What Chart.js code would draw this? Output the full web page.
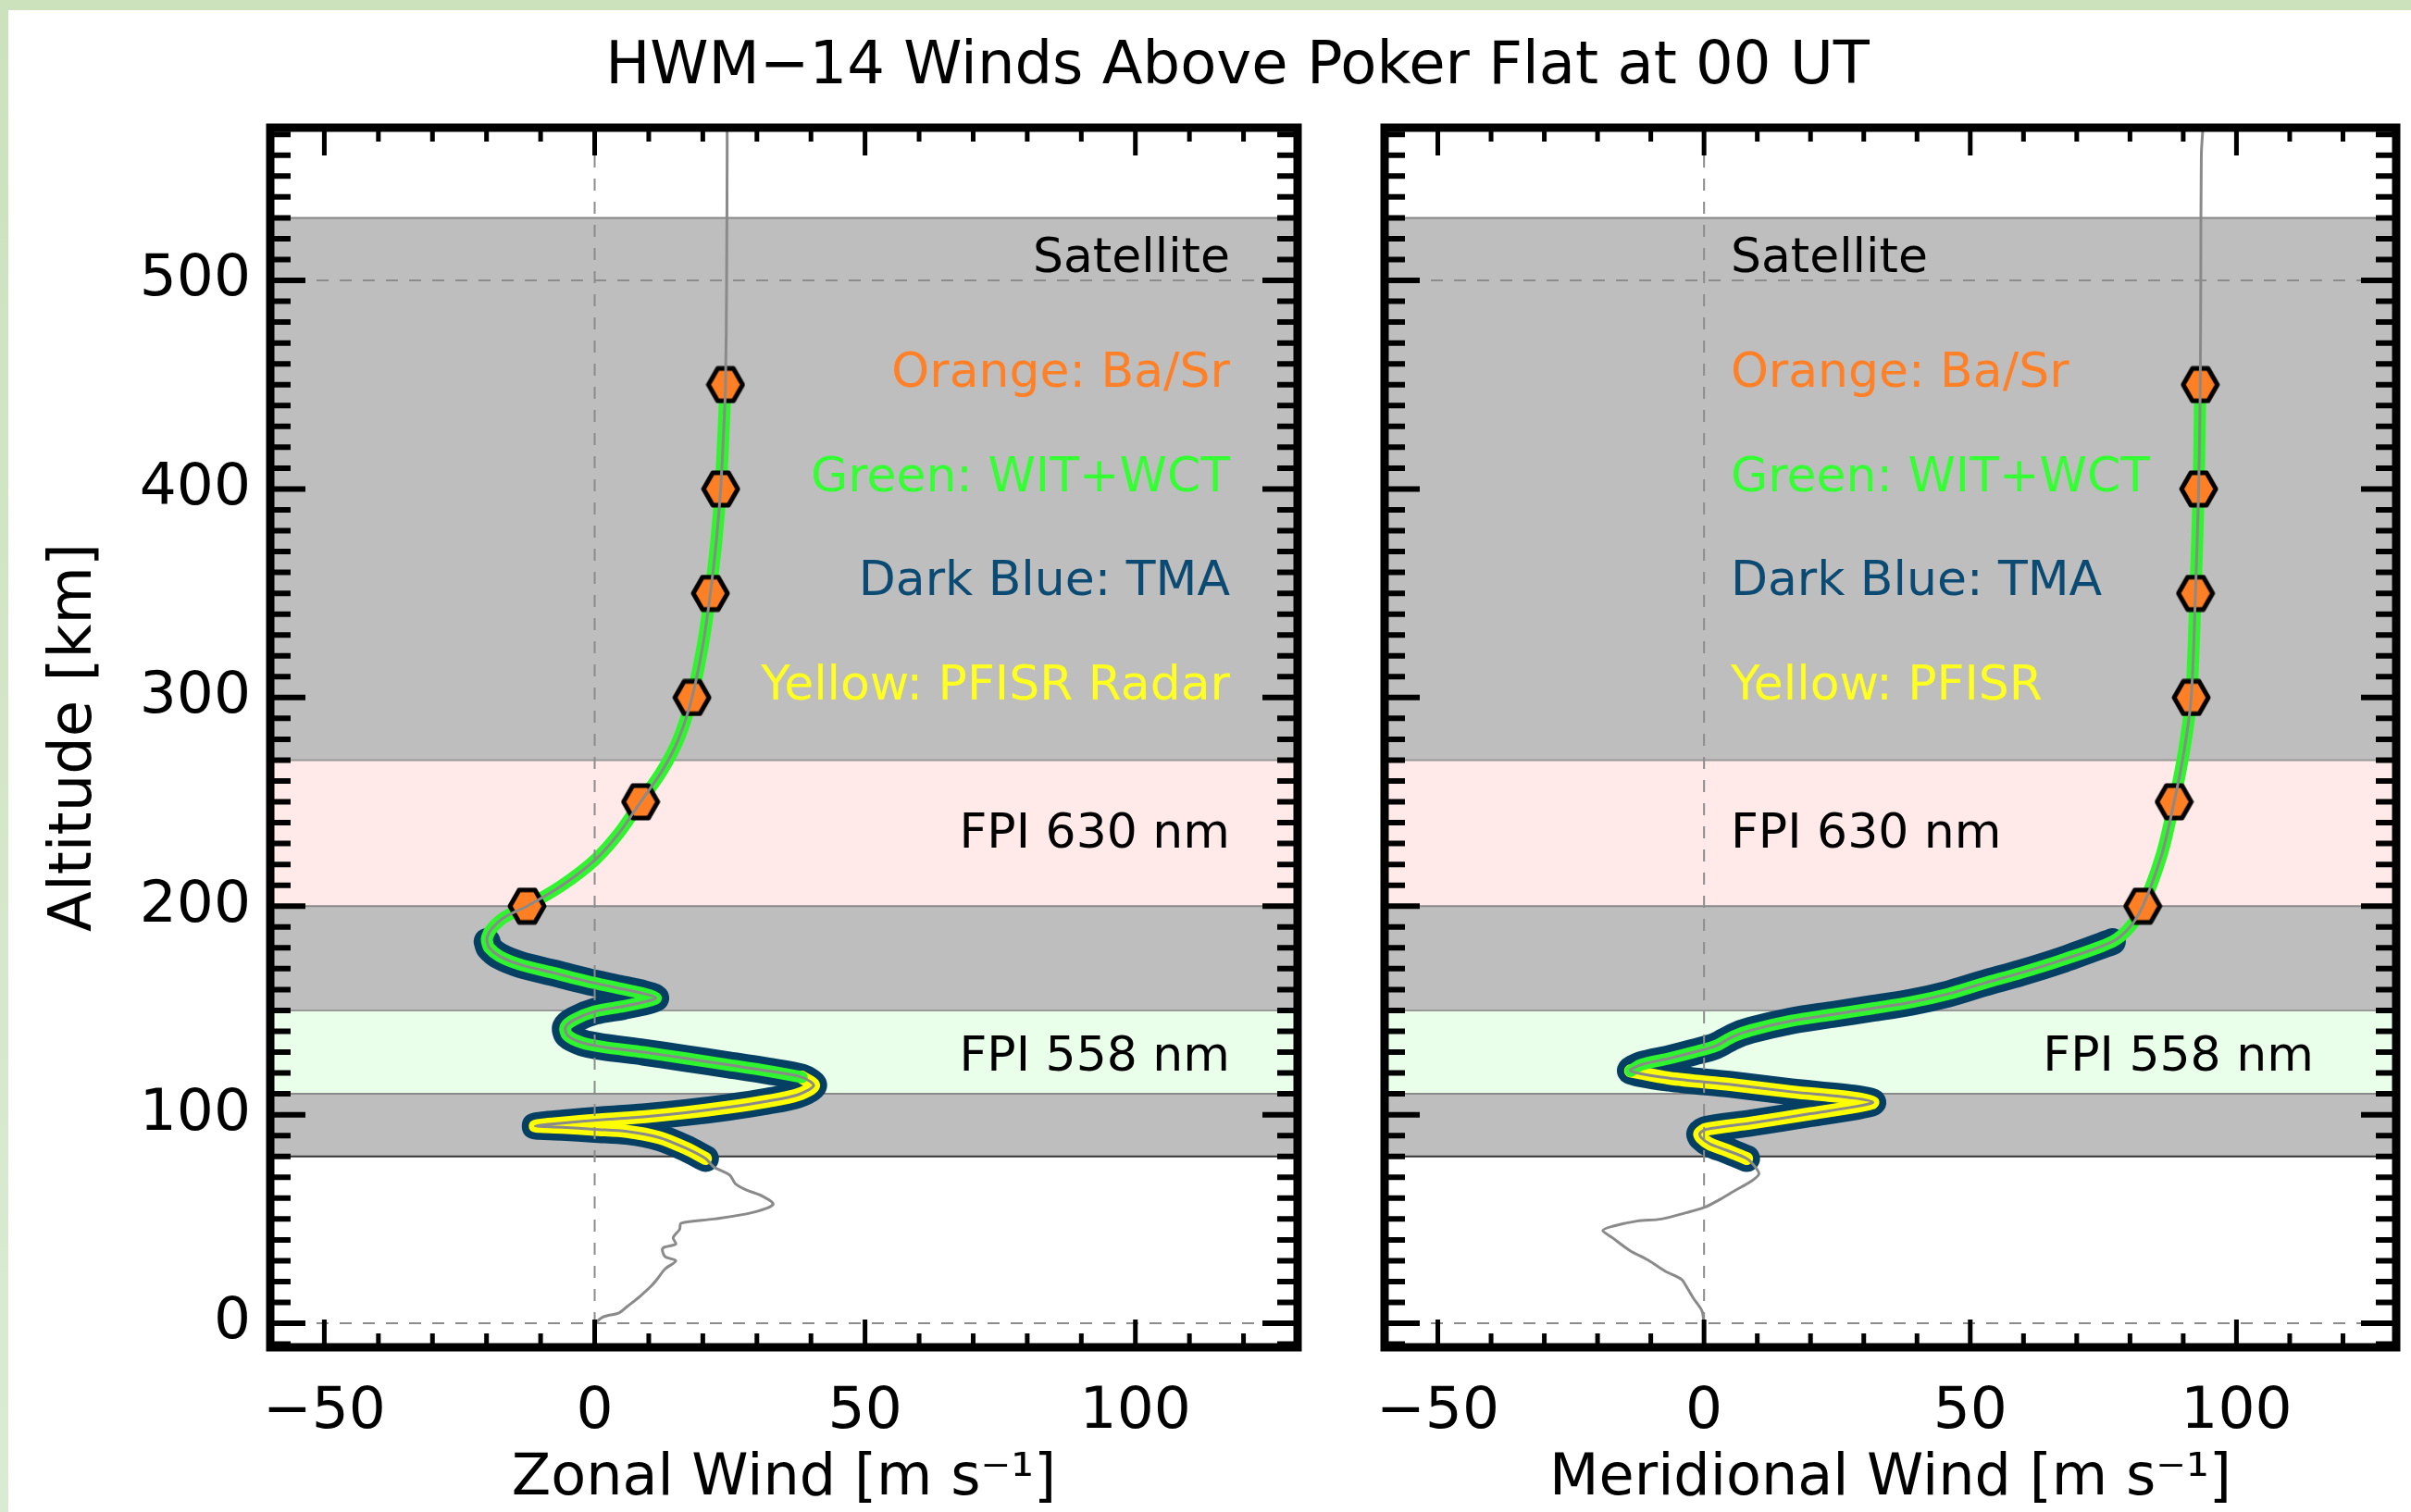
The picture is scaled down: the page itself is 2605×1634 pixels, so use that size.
<!DOCTYPE html>
<html>
<head>
<meta charset="utf-8">
<script src="https://cdn.jsdelivr.net/npm/chart.js@4.4.1/dist/chart.umd.min.js"></script>
<style>
  html, body { margin: 0; padding: 0; width: 2605px; height: 1634px; overflow: hidden; background: #fff; }
  #stripTop { position: absolute; left: 0; top: 0; width: 2605px; height: 11px; background: #cbe2bd; }
  #stripLeft { position: absolute; left: 0; top: 0; width: 9px; height: 1634px; background: linear-gradient(#cbe2bd, #dbebd3); }
  #title { position: absolute; left: 1337px; top: 36px; transform: translateX(-50%);
           font: 64px 'DejaVu Sans', sans-serif; line-height: 1; white-space: nowrap; color: #000; }
  canvas { position: absolute; top: 0; }
  #zonal { left: 0; }
  #merid { left: 1445px; }
</style>
</head>
<body>
<div id="stripTop"></div>
<div id="stripLeft"></div>
<div id="title">HWM−14 Winds Above Poker Flat at 00 UT</div>
<canvas id="zonal" width="1445" height="1634"></canvas>
<canvas id="merid" width="1165" height="1634"></canvas>
<script>
// ---- axes ----
const xRange = [-60, 130];
const yRange = [-11.5, 573.2];
const xTickValues = [-50, 0, 50, 100];
const xTickLabels = ['−50', '0', '50', '100'];
const yTickValues = [0, 100, 200, 300, 400, 500];
const yTickLabels = ['0', '100', '200', '300', '400', '500'];

// ---- HWM-14 zonal wind profile (km, m/s) ----
const zonalAlt = [0, 3, 5, 8, 13, 18, 21, 26, 30, 32, 36, 38, 41, 45, 48, 50, 53, 57, 61, 64, 67, 71, 75,
  79, 84, 89, 92, 93, 94, 94.6, 96, 97.6, 99, 101, 103.5, 106.5, 109.5, 114, 118, 121, 124, 127, 130,
  132.5, 134.5, 138, 142, 145.5, 149.5, 152, 154.5, 156, 158, 161, 164, 168, 172, 176, 180, 183, 185,
  189, 194.5, 200, 210, 222, 235, 250, 265, 280, 300, 325, 350, 375, 400, 425, 450, 500, 560, 573];
const zonalWind = [0, 1.5, 4.5, 6, 8.4, 10.5, 11.5, 13, 15, 13, 12.6, 15, 14.5, 15.7, 16, 22, 29, 33, 31, 28, 26, 25, 22,
  20.5, 16.8, 12, 6, 0, -6, -11, -6, 1.5, 9, 16.8, 24.5, 32, 37.5, 40.5, 38.3, 32, 24.5, 16.8, 9,
  1.5, -2.3, -5, -5.4, -3.8, 0, 5.4, 9.9, 11.3, 9.2, 3.8, -1.5, -7.6, -13.8, -17.6, -19.5, -19.9, -19.9,
  -19.1, -16.8, -12.5, -6, 0, 4.5, 8.5, 12.5, 15.5, 18, 20, 21.4, 22.5, 23.3, 23.8, 24.2, 24.4, 24.5, 24.5];

// ---- HWM-14 meridional wind profile (km, m/s) ----
const meridAlt = [0, 6, 12, 18, 21, 25, 30, 35, 41, 44.5, 46.5, 49, 50, 53, 55.5, 59, 63.5, 68, 71.5, 75,
  79, 83, 86, 89, 91, 93, 96, 100.5, 104, 106, 108, 111, 114.5, 117.5, 121, 124, 127, 130, 133, 137.5,
  140.5, 145, 148, 151, 154, 158, 163, 168, 174, 183, 190, 200, 225, 250, 275, 300, 350, 400, 450, 500, 560, 573];
const meridWind = [0, -0.4, -2, -3.4, -4.2, -7.3, -10.3, -14, -17.2, -19, -17.2, -12.6, -8, -3.4, 0, 2.7, 5.7, 8.8, 10.3, 9.6,
  8, 4.2, 1.1, -0.5, -0.8, 0.4, 8.8, 20, 28.7, 31.7, 28, 16.4, 5, -6.5, -13.8, -11.8, -6.5, -1.9, 2.2, 5.5,
  8.8, 16.4, 24, 31.7, 39, 46, 52.5, 59.5, 67, 76.7, 80, 82.4, 86, 88.3, 90.2, 91.5, 92.3, 92.9, 93.2, 93.3, 93.4, 93.7];

// ---- Ba/Sr release altitudes and winds ----
const markerAlt = [200, 250, 300, 350, 400, 450];
const zonalMarkerWind = [-12.5, 8.5, 18, 21.4, 23.3, 24.2];
const meridMarkerWind = [82.4, 88.3, 91.5, 92.3, 92.9, 93.2];

// ---- instrument altitude coverage (km) ----
const tmaRange = [79, 183];
const zonalPfisrRange = [79, 118];
const zonalWitRange = [118, 450];
const meridPfisrRange = [79, 121];
const meridWitRange = [121, 450];

// ---- observation layers ----
const bandLow = [270, 200, 150, 110, 80];
const bandHigh = [530, 270, 200, 150, 110];
const bandColor = ['#bebebe', '#ffe9e9', '#bebebe', '#eaffea', '#bebebe'];
const bandEdges = [530, 270, 200, 150, 110, 80];
const bandEdgeColor = ['#858585', '#9a9a9a', '#8a8a8a', '#9a9a9a', '#8a8a8a', '#333333'];

// ---- reference lines ----
const dashedWind = [0];
const dashedAlt = [0, 500];

const FONT = "'DejaVu Sans', sans-serif";
const C_ORANGE = '#ff7f24', C_GREEN = '#2ff52f', C_BLUE = '#053f63', C_YELLOW = '#ffff00', C_GRAY = '#8a8a8a';

const zonalNotes = [
  { text: 'Satellite', alt: 504, wind: 117.5, align: 'right', color: '#000' },
  { text: 'Orange: Ba/Sr', alt: 449, wind: 117.5, align: 'right', color: '#ff8026' },
  { text: 'Green: WIT+WCT', alt: 399, wind: 117.5, align: 'right', color: '#33ff33' },
  { text: 'Dark Blue: TMA', alt: 349, wind: 117.5, align: 'right', color: '#0b4a72' },
  { text: 'Yellow: PFISR Radar', alt: 299, wind: 117.5, align: 'right', color: '#ffff22' },
  { text: 'FPI 630 nm', alt: 228, wind: 117.5, align: 'right', color: '#000' },
  { text: 'FPI 558 nm', alt: 121, wind: 117.5, align: 'right', color: '#000' }
];
const meridNotes = [
  { text: 'Satellite', alt: 504, wind: 5, align: 'left', color: '#000' },
  { text: 'Orange: Ba/Sr', alt: 449, wind: 5, align: 'left', color: '#ff8026' },
  { text: 'Green: WIT+WCT', alt: 399, wind: 5, align: 'left', color: '#33ff33' },
  { text: 'Dark Blue: TMA', alt: 349, wind: 5, align: 'left', color: '#0b4a72' },
  { text: 'Yellow: PFISR', alt: 299, wind: 5, align: 'left', color: '#ffff22' },
  { text: 'FPI 630 nm', alt: 228, wind: 5, align: 'left', color: '#000' },
  { text: 'FPI 558 nm', alt: 121, wind: 114.5, align: 'right', color: '#000' }
];

function toPoints(alts, winds) {
  return alts.map((a, i) => ({ x: winds[i], y: a }));
}
function segment(alts, winds, range) {
  return toPoints(alts, winds).filter(p => p.y >= range[0] && p.y <= range[1]);
}

// hexagonal marker used for the chemical release points
function hexMarker(w, h) {
  const c = document.createElement('canvas');
  c.width = w; c.height = h;
  const g = c.getContext('2d');
  const lw = 5;
  const x0 = lw / 2 + 0.5, x1 = w - lw / 2 - 0.5, y0 = lw / 2 + 0.5, y1 = h - lw / 2 - 0.5, ym = h / 2;
  const inset = (x1 - x0) * 0.27;
  g.beginPath();
  g.moveTo(x0, ym); g.lineTo(x0 + inset, y0); g.lineTo(x1 - inset, y0);
  g.lineTo(x1, ym); g.lineTo(x1 - inset, y1); g.lineTo(x0 + inset, y1);
  g.closePath();
  g.fillStyle = C_ORANGE; g.fill();
  g.lineWidth = lw; g.lineJoin = 'round'; g.strokeStyle = '#000'; g.stroke();
  return c;
}
const marker = hexMarker(43, 41);

function decor(notes) {
  return {
    id: 'decor',
    beforeDatasetsDraw(chart) {
      const { ctx, chartArea: a, scales: { y } } = chart;
      ctx.save();
      ctx.beginPath(); ctx.rect(a.left, a.top, a.right - a.left, a.bottom - a.top); ctx.clip();
      bandLow.forEach((lo, i) => {
        const top = y.getPixelForValue(bandHigh[i]);
        const bot = y.getPixelForValue(lo);
        ctx.fillStyle = bandColor[i];
        ctx.fillRect(a.left, top, a.right - a.left, bot - top);
      });
      ctx.lineWidth = 2;
      bandEdges.forEach((v, i) => {
        const py = y.getPixelForValue(v);
        ctx.strokeStyle = bandEdgeColor[i];
        ctx.beginPath(); ctx.moveTo(a.left, py); ctx.lineTo(a.right, py); ctx.stroke();
      });
      ctx.restore();
    },
    afterDatasetsDraw(chart) {
      const { ctx, chartArea: a, scales: { x, y } } = chart;
      ctx.save();
      ctx.beginPath(); ctx.rect(a.left, a.top, a.right - a.left, a.bottom - a.top); ctx.clip();
      ctx.strokeStyle = '#8c8c8c'; ctx.lineWidth = 2; ctx.setLineDash([13, 12]);
      dashedWind.forEach(v => {
        const px = x.getPixelForValue(v);
        ctx.beginPath(); ctx.moveTo(px, a.bottom); ctx.lineTo(px, a.top); ctx.stroke();
      });
      dashedAlt.forEach(v => {
        const py = y.getPixelForValue(v);
        ctx.beginPath(); ctx.moveTo(a.left, py); ctx.lineTo(a.right, py); ctx.stroke();
      });
      ctx.setLineDash([]);
      ctx.font = '52px ' + FONT;
      ctx.textBaseline = 'alphabetic';
      notes.forEach(n => {
        ctx.fillStyle = n.color;
        ctx.textAlign = n.align;
        ctx.fillText(n.text, x.getPixelForValue(n.wind), y.getPixelForValue(n.alt));
      });
      ctx.restore();
    },
    afterDraw(chart) {
      const { ctx, chartArea: a, scales: { x, y } } = chart;
      ctx.save();
      ctx.strokeStyle = '#000'; ctx.lineCap = 'butt';
      ctx.lineWidth = 5;
      for (let v = -50; v <= 120; v += 10) {
        const px = x.getPixelForValue(v);
        const len = v % 50 === 0 ? 30 : 15;
        ctx.beginPath();
        ctx.moveTo(px, a.bottom); ctx.lineTo(px, a.bottom - len);
        ctx.moveTo(px, a.top); ctx.lineTo(px, a.top + len);
        ctx.stroke();
      }
      ctx.lineWidth = 6;
      for (let v = -10; v <= 570; v += 10) {
        const py = y.getPixelForValue(v);
        const len = v % 100 === 0 ? 38 : 22;
        ctx.beginPath();
        ctx.moveTo(a.left, py); ctx.lineTo(a.left + len, py);
        ctx.moveTo(a.right, py); ctx.lineTo(a.right - len, py);
        ctx.stroke();
      }
      ctx.lineWidth = 9; ctx.lineJoin = 'miter';
      ctx.strokeRect(a.left, a.top, a.right - a.left, a.bottom - a.top);
      ctx.restore();
    }
  };
}

function makePanel(id, p) {
  const canvas = document.getElementById(id);
  const tube = { showLine: true, pointRadius: 0, tension: 0.3, borderCapStyle: 'round', borderJoinStyle: 'round' };
  new Chart(canvas, {
    type: 'scatter',
    data: {
      datasets: [
        { label: 'HWM-14', data: toPoints(p.alt, p.wind), showLine: true, pointRadius: 0, tension: 0.3,
          borderColor: C_GRAY, borderWidth: 3, order: 0 },
        { label: 'Ba/Sr', data: toPoints(markerAlt, p.markerWind), showLine: false,
          pointStyle: marker, pointRadius: 20, order: 1 },
        Object.assign({ label: 'WIT+WCT', data: segment(p.alt, p.wind, p.witRange),
          borderColor: C_GREEN, borderWidth: 13, order: 2 }, tube),
        Object.assign({ label: 'PFISR', data: segment(p.alt, p.wind, p.pfisrRange),
          borderColor: C_YELLOW, borderWidth: 14, order: 3 }, tube),
        Object.assign({ label: 'TMA', data: segment(p.alt, p.wind, tmaRange),
          borderColor: C_BLUE, borderWidth: 29, order: 4 }, tube)
      ]
    },
    options: {
      responsive: false, animation: false, devicePixelRatio: 1, events: [],
      layout: { padding: { left: 0, top: 138, right: canvas.width - p.plotRight, bottom: 0 } },
      plugins: { legend: { display: false }, tooltip: { enabled: false }, title: { display: false } },
      scales: {
        x: {
          type: 'linear', position: 'bottom', min: xRange[0], max: xRange[1],
          afterBuildTicks: s => { s.ticks = xTickValues.map(v => ({ value: v })); },
          afterFit: s => { s.height = 1634 - 1456; },
          grid: { display: false, drawTicks: false }, border: { display: false },
          ticks: { callback: v => xTickLabels[xTickValues.indexOf(v)], font: { family: FONT, size: 63 },
                   color: '#000', padding: 33, maxRotation: 0, minRotation: 0, autoSkip: false },
          title: { display: true, text: p.xTitle, color: '#000', font: { family: FONT, size: 62 },
                   padding: { top: 0, bottom: -2 } }
        },
        y: {
          type: 'linear', position: 'left', min: yRange[0], max: yRange[1],
          afterBuildTicks: s => { s.ticks = yTickValues.map(v => ({ value: v })); },
          afterFit: s => { s.width = p.plotLeft; },
          grid: { display: false, drawTicks: false }, border: { display: false },
          ticks: { display: p.showY, callback: v => yTickLabels[yTickValues.indexOf(v)],
                   font: { family: FONT, size: 63 }, color: '#000', padding: 21, autoSkip: false },
          title: { display: p.showY, text: 'Altitude [km]', color: '#000', font: { family: FONT, size: 64 },
                   padding: { top: 43, bottom: 0 } }
        }
      }
    },
    plugins: [decor(p.notes)]
  });
}

makePanel('zonal', {
  alt: zonalAlt, wind: zonalWind, markerWind: zonalMarkerWind,
  pfisrRange: zonalPfisrRange, witRange: zonalWitRange,
  notes: zonalNotes, xTitle: 'Zonal Wind [m s⁻¹]', showY: true, plotLeft: 292, plotRight: 1402
});
makePanel('merid', {
  alt: meridAlt, wind: meridWind, markerWind: meridMarkerWind,
  pfisrRange: meridPfisrRange, witRange: meridWitRange,
  notes: meridNotes, xTitle: 'Meridional Wind [m s⁻¹]', showY: false, plotLeft: 51, plotRight: 1161
});
</script>
</body>
</html>
